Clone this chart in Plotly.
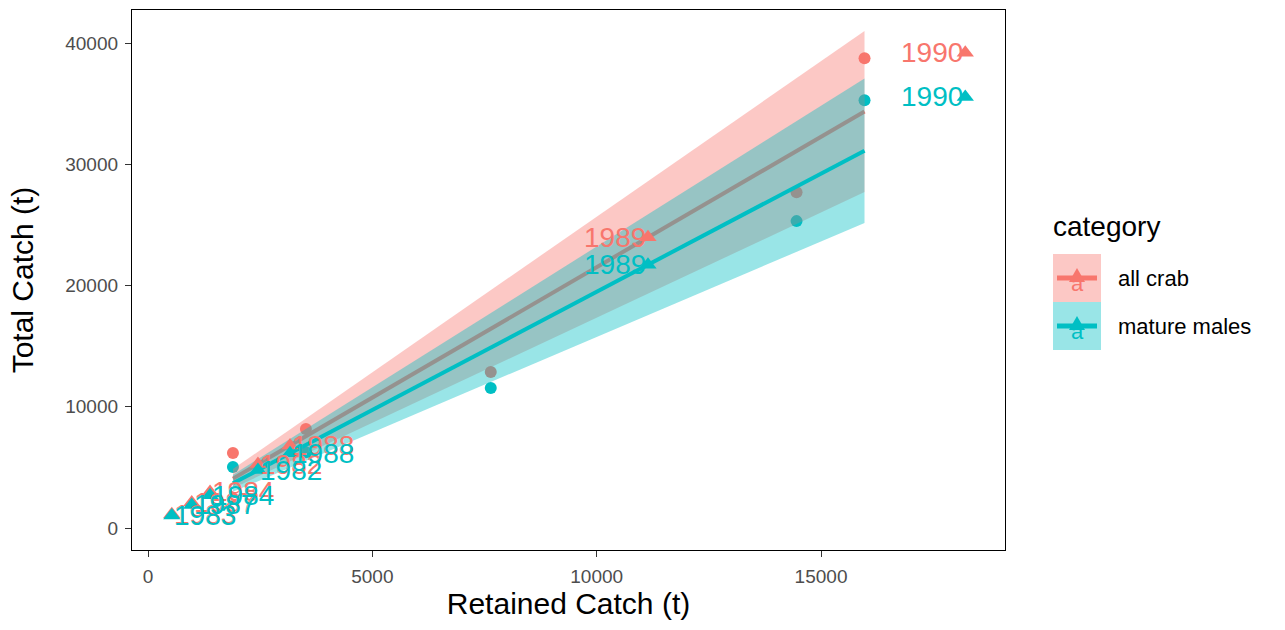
import numpy as np
import plotly.graph_objects as go

# ---------------- data ----------------
categories = ["all crab", "mature males"]

# observed years: retained vs total catch (circles, used for the fit)
retained_obs = [1893, 3519, 7639, 14454, 15969]
total_all_obs = [6180, 8160, 12860, 27700, 38750]
total_mature_obs = [5030, 6240, 11540, 25310, 35280]

# historical years (triangles with year labels)
years = [1982, 1983, 1984, 1987, 1988, 1989, 1990]
retained_hist = [2450, 530, 1382, 974, 3165, 11143, 18215]
total_all_hist = [5270, 1140, 2973, 2095, 6808, 23970, 39200]
total_mature_hist = [4775, 1033, 2693, 1898, 6169, 21718, 35550]

x_ticks = [0, 5000, 10000, 15000]
y_ticks = [0, 10000, 20000, 30000, 40000]

# ---------------- styling ----------------
FONT = "Liberation Sans, Arial, sans-serif"
col = {"all crab": "#F8766D", "mature males": "#00BFC4"}
fill = {"all crab": "rgba(248,118,109,0.4)", "mature males": "rgba(0,191,196,0.4)"}

W, H = 1285, 630
PL, PR, PT, PB = 132, 1005, 10, 550  # plot panel in pixels
x_range = [-357, 19100]
y_range = [-1814, 42722]
T_975_DF4 = 2.7764451


def fit_origin(x, y, n_grid=80):
    """lm(y ~ x - 1) with 95% confidence band, like geom_smooth."""
    x = np.asarray(x, float)
    y = np.asarray(y, float)
    sxx = np.sum(x * x)
    b = np.sum(x * y) / sxx
    resid = y - b * x
    s = np.sqrt(np.sum(resid ** 2) / (len(x) - 1))
    se_b = s / np.sqrt(sxx)
    g = np.linspace(x.min(), x.max(), n_grid)
    yhat = b * g
    half = T_975_DF4 * se_b * g
    return g, yhat, yhat - half, yhat + half


obs = {"all crab": total_all_obs, "mature males": total_mature_obs}
hist = {"all crab": total_all_hist, "mature males": total_mature_hist}

fig = go.Figure()

# observed points
for c in categories:
    fig.add_trace(go.Scatter(x=retained_obs, y=obs[c], mode="markers",
                             marker=dict(symbol="circle", size=12, color=col[c], line=dict(width=0)),
                             showlegend=False, hoverinfo="skip"))

# smooth ribbons + lines
for c in categories:
    g, yhat, lo, hi = fit_origin(retained_obs, obs[c])
    fig.add_trace(go.Scatter(x=np.concatenate([g, g[::-1]]), y=np.concatenate([hi, lo[::-1]]),
                             mode="lines", fill="toself", fillcolor=fill[c], line=dict(width=0),
                             showlegend=False, hoverinfo="skip"))
    fig.add_trace(go.Scatter(x=g, y=yhat, mode="lines", line=dict(color=col[c], width=4),
                             showlegend=False, hoverinfo="skip"))

# triangles
for c in categories:
    fig.add_trace(go.Scatter(x=retained_hist, y=hist[c], mode="markers",
                             marker=dict(symbol="triangle-up", size=15, color=col[c], line=dict(width=0)),
                             showlegend=False, hoverinfo="skip"))

annotations = []
x_mid = (x_range[0] + x_range[1]) / 2
for c in categories:
    for yr, xv, yv in zip(years, retained_hist, hist[c]):
        annotations.append(dict(x=xv, y=yv, xref="x", yref="y", text=str(yr), showarrow=False,
                                xanchor="left" if xv < x_mid else "right", yanchor="middle",
                                font=dict(family=FONT, size=28, color=col[c])))


# ---------------- manual legend ----------------
def px(xp):
    return (xp - PL) / (PR - PL)


def py(yp):
    return (PB - yp) / (PB - PT)


shapes = []
annotations.append(dict(x=px(1051), y=py(226), xref="paper", yref="paper", text="category",
                        showarrow=False, xanchor="left", yanchor="middle",
                        font=dict(family=FONT, size=28, color="black")))
key_top = [254, 302]
for c, top in zip(categories, key_top):
    shapes.append(dict(type="rect", xref="paper", yref="paper", x0=px(1053), x1=px(1101),
                       y0=py(top), y1=py(top + 48), fillcolor=fill[c], line=dict(width=0), layer="above"))
    cy = top + 24
    annotations.append(dict(x=px(1077), y=py(cy + 5), xref="paper", yref="paper", text="a",
                            showarrow=False, xanchor="center", yanchor="middle",
                            font=dict(family=FONT, size=22, color=col[c])))
    shapes.append(dict(type="line", xref="paper", yref="paper", x0=px(1057), x1=px(1097),
                       y0=py(cy), y1=py(cy), line=dict(color=col[c], width=5), layer="above"))
    tri = "M {} {} L {} {} L {} {} Z".format(px(1069), py(cy + 4), px(1085), py(cy + 4), px(1077), py(cy - 10))
    shapes.append(dict(type="path", xref="paper", yref="paper", path=tri,
                       fillcolor=col[c], line=dict(width=0), layer="above"))
    annotations.append(dict(x=px(1116), y=py(cy), xref="paper", yref="paper", text=c,
                            showarrow=False, xanchor="left", yanchor="middle",
                            font=dict(family=FONT, size=22, color="black")))

axis_common = dict(showgrid=False, zeroline=False, showline=True, mirror=True,
                   linecolor="black", linewidth=1.3, ticks="outside", ticklen=6,
                   tickcolor="#333333", tickwidth=1, ticklabelstandoff=3,
                   tickfont=dict(family=FONT, size=19, color="#4D4D4D"))

fig.update_layout(
    width=W, height=H,
    margin=dict(l=PL, r=W - PR, t=PT, b=H - PB, autoexpand=False),
    paper_bgcolor="white", plot_bgcolor="white",
    showlegend=False,
    xaxis=dict(range=x_range, tickvals=x_ticks, ticktext=[str(v) for v in x_ticks],
               title=dict(text="Retained Catch (t)", font=dict(family=FONT, size=30, color="black"),
                          standoff=7),
               **axis_common),
    yaxis=dict(range=y_range, tickvals=y_ticks, ticktext=[str(v) for v in y_ticks],
               title=dict(text="Total Catch (t)", font=dict(family=FONT, size=30, color="black"),
                          standoff=22),
               **axis_common),
    shapes=shapes,
    annotations=annotations,
)

fig.write_html("out.html")
